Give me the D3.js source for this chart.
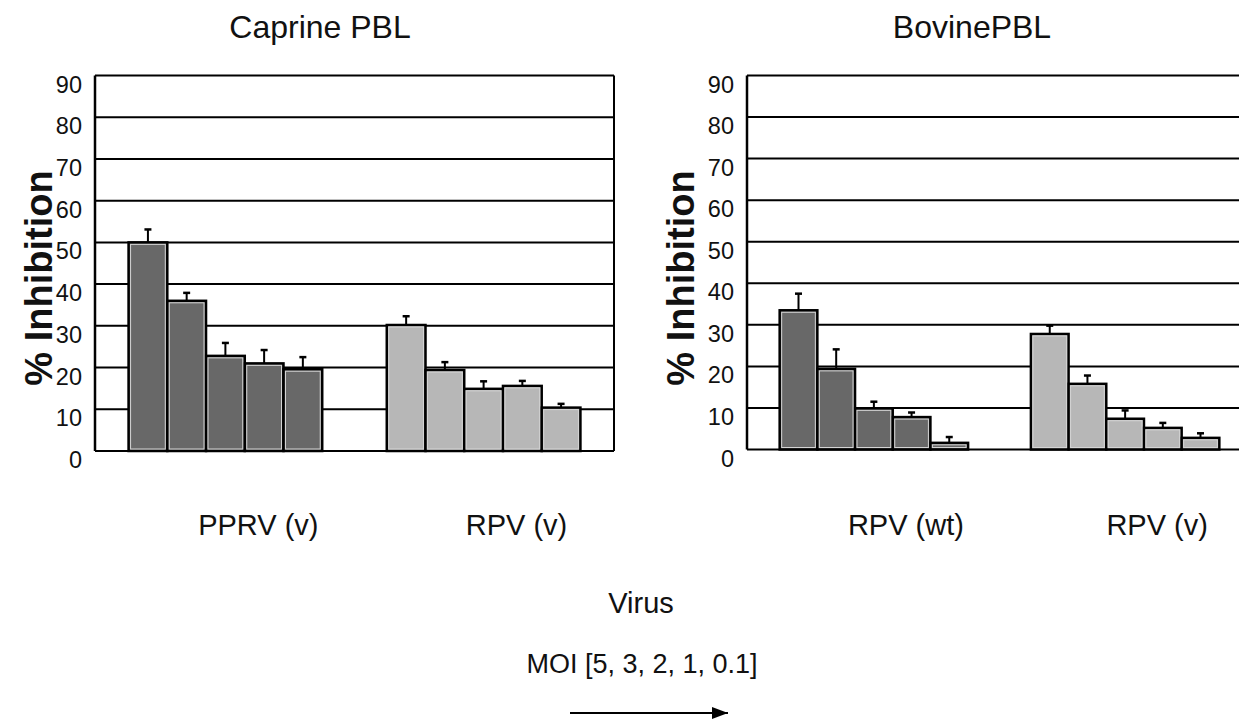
<!DOCTYPE html>
<html>
<head>
<meta charset="utf-8">
<script src="https://cdn.jsdelivr.net/npm/d3@7"></script>
<style>
  body { margin: 0; background: #fff; }
  svg { display: block; font-family: "Liberation Sans", Arial, sans-serif; }
</style>
</head>
<body>
<svg width="1239" height="721"></svg>
<script>
// Data
const moi = ["5", "3", "2", "1", "0.1"];
const yTicks = [0, 10, 20, 30, 40, 50, 60, 70, 80, 90];

const caprineViruses = ["PPRV (v)", "RPV (v)"];
const caprinePPRV = [50, 36, 22.8, 21, 19.6];
const caprinePPRVErr = [3.1, 1.9, 3.1, 3.2, 2.9];
const caprineRPV = [30.2, 19.4, 14.9, 15.6, 10.4];
const caprineRPVErr = [2.1, 1.9, 1.8, 1.2, 0.9];

const bovineViruses = ["RPV (wt)", "RPV (v)"];
const bovineRPVwt = [33.5, 19.4, 9.9, 7.8, 1.6];
const bovineRPVwtErr = [4.0, 4.7, 1.6, 1.1, 1.4];
const bovineRPVv = [27.8, 15.8, 7.4, 5.2, 2.8];
const bovineRPVvErr = [2.0, 2.0, 2.0, 1.2, 1.1];

const svg = d3.select("svg");
const fills = ["#686868", "#b7b7b7"];

// Panel layout
const panels = [
  {
    title: "Caprine PBL",
    viruses: caprineViruses,
    values: [caprinePPRV, caprineRPV],
    errors: [caprinePPRVErr, caprineRPVErr],
    left: 95, right: 614, top: 75.5, bottom: 451,
    titleX: 320, yTitleX: 52, rightBorder: true
  },
  {
    title: "BovinePBL",
    viruses: bovineViruses,
    values: [bovineRPVwt, bovineRPVv],
    errors: [bovineRPVwtErr, bovineRPVvErr],
    left: 747, right: 1252, top: 75.5, bottom: 449.5,
    titleX: 972, yTitleX: 694, rightBorder: false
  }
];

panels.forEach(drawPanel);

function drawPanel(p) {
  const g = svg.append("g");

  const y = d3.scaleLinear().domain([0, 90]).range([p.bottom, p.top]);
  const x0 = d3
    .scaleBand()
    .domain(p.viruses)
    .range([p.left, p.right])
    .paddingInner(0.25)
    .paddingOuter(0.13);
  const x1 = d3.scaleBand().domain(moi).range([0, x0.bandwidth()]);

  // Gridlines
  g.selectAll("line.grid")
    .data(yTicks)
    .join("line")
    .attr("class", "grid")
    .attr("x1", p.left)
    .attr("x2", p.right)
    .attr("y1", (d) => y(d))
    .attr("y2", (d) => y(d))
    .attr("stroke", "#000")
    .attr("stroke-width", 2);

  // Tick labels
  g.selectAll("text.tick")
    .data(yTicks)
    .join("text")
    .attr("class", "tick")
    .attr("x", p.left - 13)
    .attr("y", (d) => y(d) + 17)
    .attr("text-anchor", "end")
    .attr("font-size", 23.5)
    .attr("fill", "#111")
    .text((d) => d);

  // Axis lines
  g.append("line")
    .attr("x1", p.left).attr("x2", p.left)
    .attr("y1", y(90)).attr("y2", y(0))
    .attr("stroke", "#000").attr("stroke-width", 2.5);
  if (p.rightBorder) {
    g.append("line")
      .attr("x1", p.right).attr("x2", p.right)
      .attr("y1", y(90)).attr("y2", y(0))
      .attr("stroke", "#000").attr("stroke-width", 2);
  }

  // Bars + error bars
  p.viruses.forEach((v, i) => {
    const rows = moi.map((m, j) => ({ m: m, v: p.values[i][j], e: p.errors[i][j] }));
    const gg = g.append("g").attr("transform", `translate(${x0(v)},0)`);

    gg.selectAll("line.err")
      .data(rows)
      .join("line")
      .attr("class", "err")
      .attr("x1", (d) => x1(d.m) + x1.bandwidth() / 2)
      .attr("x2", (d) => x1(d.m) + x1.bandwidth() / 2)
      .attr("y1", (d) => y(d.v))
      .attr("y2", (d) => y(d.v + d.e))
      .attr("stroke", "#000")
      .attr("stroke-width", 2);

    gg.selectAll("line.cap")
      .data(rows)
      .join("line")
      .attr("class", "cap")
      .attr("x1", (d) => x1(d.m) + x1.bandwidth() / 2 - 3.5)
      .attr("x2", (d) => x1(d.m) + x1.bandwidth() / 2 + 3.5)
      .attr("y1", (d) => y(d.v + d.e))
      .attr("y2", (d) => y(d.v + d.e))
      .attr("stroke", "#000")
      .attr("stroke-width", 2.5);

    gg.selectAll("rect.bar")
      .data(rows)
      .join("rect")
      .attr("class", "bar")
      .attr("x", (d) => x1(d.m))
      .attr("y", (d) => y(d.v))
      .attr("width", x1.bandwidth())
      .attr("height", (d) => y(0) - y(d.v))
      .attr("fill", fills[i])
      .attr("stroke", "#000")
      .attr("stroke-width", 2.5);

    // faint inner rim seen on the printed bars
    gg.selectAll("rect.rim")
      .data(rows.filter((d) => y(0) - y(d.v) > 6))
      .join("rect")
      .attr("class", "rim")
      .attr("x", (d) => x1(d.m) + 2)
      .attr("y", (d) => y(d.v) + 2)
      .attr("width", x1.bandwidth() - 4)
      .attr("height", (d) => y(0) - y(d.v) - 4)
      .attr("fill", "none")
      .attr("stroke", "#d4d4d4")
      .attr("stroke-width", 1);

    // Category label
    g.append("text")
      .attr("x", x0(v) + x0.bandwidth() * 0.67)
      .attr("y", 535)
      .attr("text-anchor", "middle")
      .attr("font-size", 29)
      .attr("fill", "#111")
      .text(v);
  });

  // Panel title
  g.append("text")
    .attr("x", p.titleX)
    .attr("y", 38)
    .attr("text-anchor", "middle")
    .attr("font-size", 32)
    .attr("fill", "#111")
    .text(p.title);

  // Y axis title
  g.append("text")
    .attr("transform", `translate(${p.yTitleX},278) rotate(-90)`)
    .attr("text-anchor", "middle")
    .attr("font-size", 38)
    .attr("font-weight", "bold")
    .attr("fill", "#111")
    .text("% Inhibition");
}

// Shared x-axis captions
svg.append("text")
  .attr("x", 641)
  .attr("y", 613)
  .attr("text-anchor", "middle")
  .attr("font-size", 29)
  .attr("fill", "#111")
  .text("Virus");

svg.append("text")
  .attr("x", 642)
  .attr("y", 673)
  .attr("text-anchor", "middle")
  .attr("font-size", 27)
  .attr("fill", "#111")
  .text("MOI [5, 3, 2, 1, 0.1]");

svg.append("defs")
  .append("marker")
  .attr("id", "arrow")
  .attr("viewBox", "0 0 16 12")
  .attr("refX", 16)
  .attr("refY", 6)
  .attr("markerWidth", 16)
  .attr("markerHeight", 12)
  .attr("markerUnits", "userSpaceOnUse")
  .attr("orient", "auto")
  .append("path")
  .attr("d", "M0,0 L16,6 L0,12 Z")
  .attr("fill", "#000");

svg.append("line")
  .attr("x1", 570)
  .attr("x2", 728)
  .attr("y1", 713)
  .attr("y2", 713)
  .attr("stroke", "#000")
  .attr("stroke-width", 2)
  .attr("marker-end", "url(#arrow)");
</script>
</body>
</html>
